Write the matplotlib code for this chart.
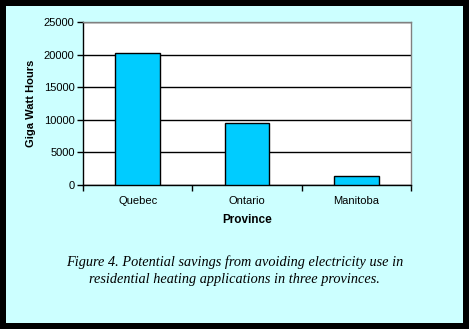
import matplotlib
matplotlib.use("Agg")
import matplotlib.pyplot as plt
from matplotlib.patches import Rectangle

provinces = ["Quebec", "Ontario", "Manitoba"]
savings_gwh = [20200, 9450, 1380]
yticks = [0, 5000, 10000, 15000, 20000, 25000]

W, H = 469, 329
fig = plt.figure(figsize=(W / 100, H / 100), dpi=100)
fig.patch.set_facecolor("black")
fig.add_artist(Rectangle((6 / W, 6 / H), (463 - 6) / W, (323 - 6) / H,
                         transform=fig.transFigure, facecolor="#CCFFFF",
                         edgecolor="none", zorder=0))

ax = fig.add_axes([83 / W, (H - 185) / H, (411 - 83) / W, (185 - 22) / H])
ax.set_facecolor("white")
x = range(len(provinces))
ax.bar(x, savings_gwh, width=0.41, color="#00CCFF", edgecolor="black",
       linewidth=1.0, zorder=3)
ax.set_xlim(-0.5, len(provinces) - 0.5)
ax.set_ylim(0, 25000)
ax.set_yticks(yticks)
ax.set_yticklabels([str(v) for v in yticks], fontsize=8, family="Liberation Sans")
ax.yaxis.grid(True, color="black", linewidth=1.0, zorder=1)
ax.set_xticks([-0.5, 0.5, 1.5, 2.5])
ax.set_xticklabels([])
ax.set_xticks(list(x), minor=True)
ax.set_xticklabels(provinces, minor=True, fontsize=8, family="Liberation Sans")
ax.tick_params(axis="x", which="minor", length=0, pad=8)
ax.tick_params(axis="x", which="major", length=4, direction="out", width=1)
ax.tick_params(axis="y", length=4, direction="out", width=1, pad=2)
for s in ["left", "bottom"]:
    ax.spines[s].set_color("black")
    ax.spines[s].set_linewidth(1.0)
for s in ["top", "right"]:
    ax.spines[s].set_color("#808080")
    ax.spines[s].set_linewidth(1.0)

ax.set_ylabel("Giga Watt Hours", fontsize=8, fontweight="bold",
              family="Liberation Sans", labelpad=6)
ax.set_xlabel("Province", fontsize=8.5, fontweight="bold",
              family="Liberation Sans", labelpad=6)

fig.text(235 / W, 1 - 262 / H,
         "Figure 4. Potential savings from avoiding electricity use in",
         ha="center", va="center", fontsize=10.3, style="italic",
         family="Liberation Serif")
fig.text(234 / W, 1 - 280 / H,
         "residential heating applications in three provinces.",
         ha="center", va="center", fontsize=10.3, style="italic",
         family="Liberation Serif")

fig.savefig("out.png", dpi=100, facecolor=fig.get_facecolor())
